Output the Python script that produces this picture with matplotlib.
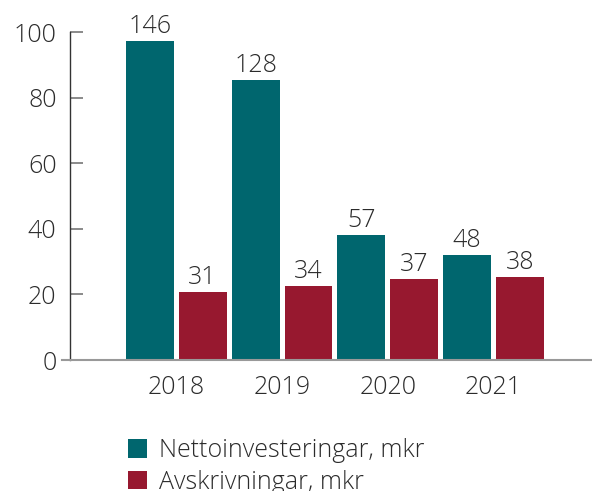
import matplotlib as mpl
import matplotlib.pyplot as plt
import numpy as np
from matplotlib.patches import Patch

# ---------------------------------------------------------------- data ----
years = ["2018", "2019", "2020", "2021"]
netto = [146, 128, 57, 48]        # Nettoinvesteringar, mkr
avskr = [31, 34, 37, 38]          # Avskrivningar, mkr
series_names = ["Nettoinvesteringar, mkr", "Avskrivningar, mkr"]
yticks = [0, 20, 40, 60, 80, 100]
# bars are plotted on a compressed scale; labels carry the real values
SCALE = 1.5

# ---------------------------------------------------------------- style ---
COLOR_TEAL = "#00666E"
COLOR_RED = "#97182F"
COLOR_TEXT = "#2B2B2B"

mpl.rcParams.update({
    "font.family": ["Open Sans", "DejaVu Sans"],
    "font.weight": "light",
    "font.size": 18,
    "text.color": COLOR_TEXT,
    "xtick.color": COLOR_TEXT,
    "ytick.color": COLOR_TEXT,
})

fig = plt.figure(figsize=(5.92, 4.91), dpi=100)
ax = fig.add_axes([0.1047, 0.2668, 0.8953, 0.668])

x = np.arange(len(years))
width = 0.453
offset = 0.25

b1 = ax.bar(x - offset, np.array(netto) / SCALE, width, color=COLOR_TEAL)
b2 = ax.bar(x + offset, np.array(avskr) / SCALE, width, color=COLOR_RED)

for bars, vals in ((b1, netto), (b2, avskr)):
    for rect, v in zip(bars, vals):
        ax.text(rect.get_x() + rect.get_width() / 2, rect.get_height() + 0.6,
                str(v), ha="center", va="bottom", fontsize=18,
                fontweight="light")

ax.set_xlim(-1.08, 3.93)
ax.set_ylim(0, 100)
ax.set_xticks(x)
ax.set_xticklabels(years)
ax.set_yticks(yticks)

ax.spines["top"].set_visible(False)
ax.spines["right"].set_visible(False)
ax.spines["left"].set_position(("data", -1.0))
ax.spines["left"].set_color("#333333")
ax.spines["left"].set_linewidth(1.0)
ax.spines["bottom"].set_color("#999999")
ax.spines["bottom"].set_linewidth(1.5)

ax.tick_params(axis="y", direction="in", length=9, width=1.2,
               color="#777777", pad=10, labelsize=18)
ax.tick_params(axis="x", length=0, pad=11, labelsize=18)

handles = [Patch(facecolor=COLOR_TEAL), Patch(facecolor=COLOR_RED)]
fig.legend(handles, series_names, loc="upper left",
           bbox_to_anchor=(0.195, 0.133), frameon=False,
           handlelength=0.75, handleheight=0.75, handletextpad=0.5,
           labelspacing=0.27, borderpad=0, fontsize=18)

fig.savefig("out.png", dpi=100)
